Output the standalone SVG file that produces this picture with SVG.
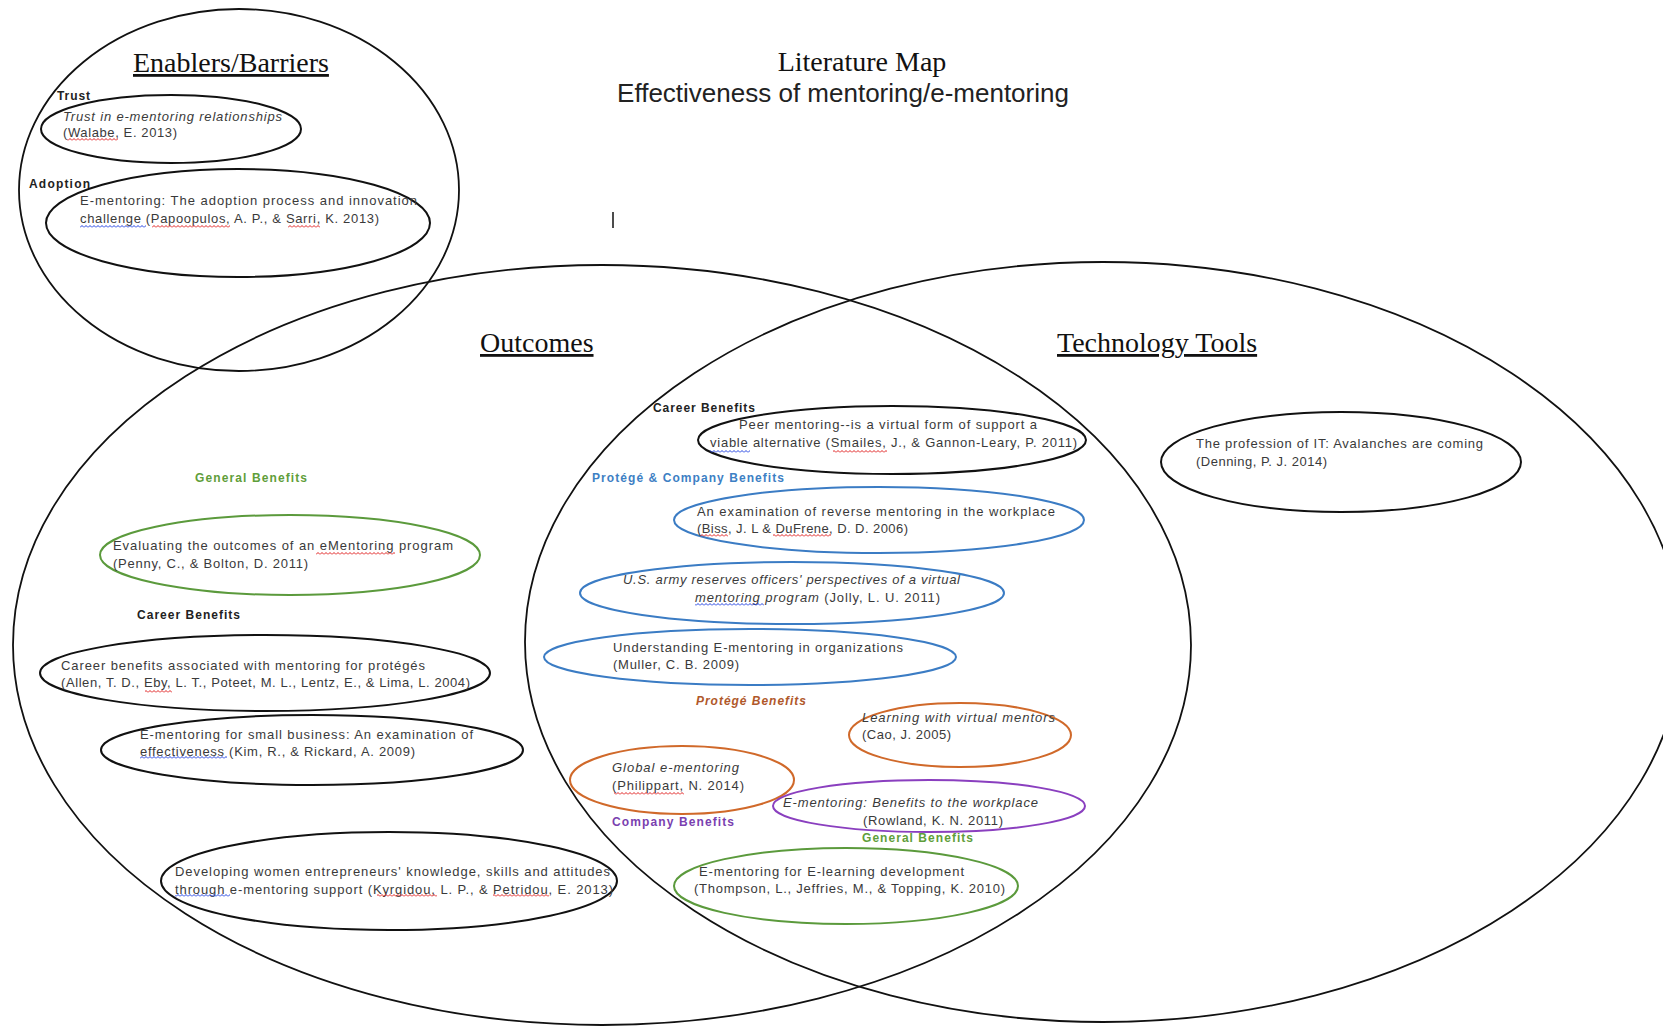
<svg xmlns="http://www.w3.org/2000/svg" width="1663" height="1026" viewBox="0 0 1663 1026">
<style>
.big{fill:none;stroke:#111;stroke-width:1.8}
.el{fill:none;stroke:#111;stroke-width:2}
.blue{stroke:#3b7cc4}
.orange{stroke:#d0692a}
.purple{stroke:#8a3fbf}
.green{stroke:#5b9a3c}
.hdr{font-family:"Liberation Serif","Times New Roman",serif;font-size:28px;fill:#111}
.u{text-decoration:underline}
.sub{font-family:"Liberation Sans",Arial,sans-serif;font-size:26px;fill:#222}
.t{font-family:"Liberation Sans",Arial,sans-serif;font-size:13px;fill:#3a3a3a}
.i{font-style:italic}
.lbl{font-family:"Liberation Sans",Arial,sans-serif;font-size:12px;font-weight:bold;fill:#222}
.lg{fill:#5f9e3a}
.lb{fill:#3d80c4}
.lo{fill:#b0582a;font-style:italic}
.lp{fill:#7a3fb0}
</style>
<defs>
<pattern id="sqR" width="4" height="3" patternUnits="userSpaceOnUse"><path d="M0,2.5 L2,0.5 L4,2.5" fill="none" stroke="#e02020" stroke-width="1"/></pattern>
<pattern id="sqB" width="4" height="3" patternUnits="userSpaceOnUse"><path d="M0,2.5 L2,0.5 L4,2.5" fill="none" stroke="#2040e0" stroke-width="1"/></pattern>
</defs>
<rect width="1663" height="1026" fill="#fff"/>

<g id="title">
<text class="hdr" x="862" y="71" text-anchor="middle">Literature Map</text>
<text class="sub" x="843" y="102" text-anchor="middle">Effectiveness of mentoring/e-mentoring</text>
<line x1="613" y1="212" x2="613" y2="228" stroke="#111" stroke-width="1.5"/>
</g>

<g id="enablers-barriers">
<ellipse class="big" cx="239" cy="190" rx="220" ry="181"/>
<text class="hdr u" x="133" y="72">Enablers/Barriers</text>
</g>
<g id="outcomes">
<ellipse class="big" cx="602" cy="645" rx="589" ry="380"/>
<text class="hdr u" x="480" y="352">Outcomes</text>
</g>
<g id="technology-tools">
<ellipse class="big" cx="1103" cy="642" rx="578" ry="380"/>
<text class="hdr u" x="1057" y="352">Technology Tools</text>
</g>

<g id="trust">
<ellipse class="el" cx="171" cy="129" rx="130" ry="34"/>
<text class="lbl" x="57" y="100" textLength="33">Trust</text>
<text class="t i" x="63" y="121" textLength="219">Trust in e-mentoring relationships</text>
<text class="t" x="63" y="137" textLength="114">(Walabe, E. 2013)</text>
<rect x="67" y="138" width="51" height="3" fill="url(#sqR)"/>
</g>

<g id="adoption">
<ellipse class="el" cx="238" cy="223" rx="192" ry="54"/>
<text class="lbl" x="29" y="188" textLength="61">Adoption</text>
<text class="t" x="80" y="205" textLength="337">E-mentoring: The adoption process and innovation</text>
<text class="t" x="80" y="223" textLength="299">challenge (Papoopulos, A. P., &amp; Sarri, K. 2013)</text>
<rect x="80" y="225" width="66" height="3" fill="url(#sqB)"/>
<rect x="152" y="225" width="78" height="3" fill="url(#sqR)"/>
<rect x="288" y="225" width="32" height="3" fill="url(#sqR)"/>
</g>

<g id="peer-mentoring">
<text class="lbl" x="653" y="412" textLength="102">Career Benefits</text>
<ellipse class="el" cx="892" cy="440" rx="194" ry="34"/>
<text class="t" x="739" y="429" textLength="298">Peer mentoring--is a virtual form of support a</text>
<text class="t" x="710" y="447" textLength="367">viable alternative (Smailes, J., &amp; Gannon-Leary, P. 2011)</text>
<rect x="710" y="450" width="40" height="3" fill="url(#sqB)"/>
<rect x="833" y="450" width="54" height="3" fill="url(#sqR)"/>
</g>

<g id="reverse-mentoring">
<text class="lbl lb" x="592" y="482" textLength="192">Protégé &amp; Company Benefits</text>
<ellipse class="el blue" cx="879" cy="520" rx="205" ry="33"/>
<text class="t" x="697" y="516" textLength="358">An examination of reverse mentoring in the workplace</text>
<text class="t" x="697" y="533" textLength="211">(Biss, J. L &amp; DuFrene, D. D. 2006)</text>
<rect x="700" y="534" width="28" height="3" fill="url(#sqR)"/>
<rect x="773" y="534" width="58" height="3" fill="url(#sqR)"/>
</g>

<g id="us-army">
<ellipse class="el blue" cx="792" cy="593" rx="212" ry="31"/>
<text class="t i" x="623" y="584" textLength="337">U.S. army reserves officers' perspectives of a virtual</text>
<text class="t" x="695" y="602" textLength="245"><tspan class="i">mentoring program</tspan> (Jolly, L. U. 2011)</text>
<rect x="695" y="603" width="69" height="3" fill="url(#sqB)"/>
</g>

<g id="understanding">
<ellipse class="el blue" cx="750" cy="657" rx="206" ry="28"/>
<text class="t" x="613" y="652" textLength="290">Understanding E-mentoring in organizations</text>
<text class="t" x="613" y="669" textLength="126">(Muller, C. B. 2009)</text>
</g>

<g id="learning-virtual">
<text class="lbl lo" x="696" y="705" textLength="110">Protégé Benefits</text>
<ellipse class="el orange" cx="960" cy="735" rx="111" ry="32"/>
<text class="t i" x="862" y="722" textLength="193">Learning with virtual mentors</text>
<text class="t" x="862" y="739" textLength="89">(Cao, J. 2005)</text>
</g>

<g id="global-ementoring">
<ellipse class="el orange" cx="682" cy="780" rx="112" ry="34"/>
<text class="t i" x="612" y="772" textLength="127">Global e-mentoring</text>
<text class="t" x="612" y="790" textLength="132">(Philippart, N. 2014)</text>
<rect x="614" y="792" width="70" height="3" fill="url(#sqR)"/>
</g>

<g id="rowland">
<text class="lbl lp" x="612" y="826" textLength="122">Company Benefits</text>
<ellipse class="el purple" cx="929" cy="806" rx="156" ry="26"/>
<text class="t i" x="783" y="807" textLength="255">E-mentoring: Benefits to the workplace</text>
<text class="t" x="863" y="825" textLength="140">(Rowland, K. N. 2011)</text>
</g>

<g id="thompson">
<text class="lbl lg" x="862" y="842" textLength="111">General Benefits</text>
<ellipse class="el green" cx="846" cy="886" rx="172" ry="38"/>
<text class="t" x="699" y="876" textLength="265">E-mentoring for E-learning development</text>
<text class="t" x="694" y="893" textLength="311">(Thompson, L., Jeffries, M., &amp; Topping, K. 2010)</text>
</g>

<g id="penny">
<text class="lbl lg" x="195" y="482" textLength="112">General Benefits</text>
<ellipse class="el green" cx="290" cy="555" rx="190" ry="40"/>
<text class="t" x="113" y="550" textLength="340">Evaluating the outcomes of an eMentoring program</text>
<text class="t" x="113" y="568" textLength="195">(Penny, C., &amp; Bolton, D. 2011)</text>
<rect x="316" y="552" width="79" height="3" fill="url(#sqR)"/>
</g>

<g id="allen">
<text class="lbl" x="137" y="619" textLength="103">Career Benefits</text>
<ellipse class="el" cx="265" cy="673" rx="225" ry="38"/>
<text class="t" x="61" y="670" textLength="364">Career benefits associated with mentoring for protégés</text>
<text class="t" x="61" y="687" textLength="409">(Allen, T. D., Eby, L. T., Poteet, M. L., Lentz, E., &amp; Lima, L. 2004)</text>
<rect x="145" y="690" width="27" height="3" fill="url(#sqR)"/>
</g>

<g id="kim">
<ellipse class="el" cx="312" cy="750" rx="211" ry="35"/>
<text class="t" x="140" y="739" textLength="333">E-mentoring for small business: An examination of</text>
<text class="t" x="140" y="756" textLength="275">effectiveness (Kim, R., &amp; Rickard, A. 2009)</text>
<rect x="140" y="756" width="87" height="3" fill="url(#sqB)"/>
</g>

<g id="kyrgidou">
<ellipse class="el" cx="389" cy="881" rx="228" ry="49"/>
<text class="t" x="175" y="876" textLength="435">Developing women entrepreneurs' knowledge, skills and attitudes</text>
<text class="t" x="175" y="894" textLength="438">through e-mentoring support (Kyrgidou, L. P., &amp; Petridou, E. 2013)</text>
<rect x="175" y="894" width="55" height="3" fill="url(#sqB)"/>
<rect x="377" y="894" width="60" height="3" fill="url(#sqR)"/>
<rect x="493" y="894" width="56" height="3" fill="url(#sqR)"/>
</g>

<g id="denning">
<ellipse class="el" cx="1341" cy="462" rx="180" ry="50"/>
<text class="t" x="1196" y="448" textLength="287">The profession of IT: Avalanches are coming</text>
<text class="t" x="1196" y="466" textLength="131">(Denning, P. J. 2014)</text>
</g>

<g id="connectors"/>
</svg>
